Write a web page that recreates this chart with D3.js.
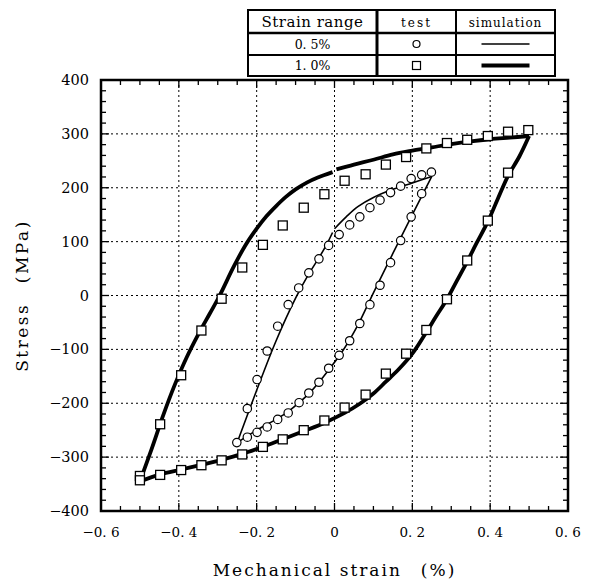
<!DOCTYPE html>
<html>
<head>
<meta charset="utf-8">
<script src="https://cdn.jsdelivr.net/npm/d3@7"></script>
<style>
  body { margin: 0; background: #fff; }
  text { font-family: "DejaVu Serif", "Liberation Serif", serif; fill: #000; }
</style>
</head>
<body>
<div id="chart"></div>
<script>
// ticks
const strainTicks = [-0.6, -0.4, -0.2, 0, 0.2, 0.4, 0.6]
const stressTicks = [-400, -300, -200, -100, 0, 100, 200, 300, 400]

// test data, 0.5% strain range (circles)
const test05UpX = [-0.251, -0.224, -0.199, -0.173, -0.146, -0.119, -0.092, -0.066, -0.040, -0.015, 0.012, 0.039, 0.065, 0.091, 0.117, 0.144, 0.170, 0.197, 0.224, 0.249]
const test05UpY = [-273, -210, -156, -103, -57, -17, 14, 42, 68, 93, 113, 131, 146, 163, 177, 191, 203, 217, 224, 229]
const test05DownX = [0.224, 0.197, 0.170, 0.144, 0.117, 0.091, 0.065, 0.039, 0.012, -0.015, -0.040, -0.066, -0.091, -0.119, -0.146, -0.173, -0.199, -0.224]
const test05DownY = [189, 146, 102, 61, 19, -17, -52, -84, -111, -135, -161, -181, -199, -218, -230, -244, -254, -263]

// test data, 1.0% strain range (squares)
const test10UpX = [-0.500, -0.448, -0.394, -0.342, -0.290, -0.237, -0.184, -0.133, -0.079, -0.026, 0.026, 0.080, 0.132, 0.184, 0.236, 0.289, 0.341, 0.394, 0.446, 0.498]
const test10UpY = [-335, -239, -148, -65, -6, 52, 94, 130, 163, 188, 213, 225, 243, 257, 273, 283, 289, 296, 304, 307]
const test10DownX = [0.446, 0.394, 0.341, 0.289, 0.236, 0.184, 0.132, 0.080, 0.026, -0.026, -0.079, -0.133, -0.184, -0.237, -0.290, -0.342, -0.394, -0.448, -0.500]
const test10DownY = [228, 139, 65, -7, -64, -108, -145, -184, -208, -232, -250, -267, -281, -295, -306, -315, -324, -333, -343]

// simulation, 0.5% (thin line), in segments
const sim05Segments = [
  [[-0.25, -273], [-0.2, -176], [-0.15, -84], [-0.1, -5], [-0.066, 40], [-0.04, 70], [-0.02, 95], [-0.005, 117]],
  [[0, 124], [0.03, 146], [0.06, 165], [0.1, 182], [0.15, 197], [0.2, 209], [0.25, 221]],
  [[0.25, 221], [0.2, 150], [0.15, 78], [0.1, 5], [0.06, -55], [0.02, -104], [-0.03, -152], [-0.06, -178], [-0.091, -199], [-0.12, -216], [-0.146, -228], [-0.2, -250], [-0.25, -273]]
]

// simulation, 1.0% (thick line), in segments
const sim10Segments = [
  [[-0.5, -345], [-0.47, -285], [-0.44, -222], [-0.41, -165], [-0.38, -115], [-0.35, -72], [-0.32, -33], [-0.295, 0], [-0.26, 52], [-0.23, 92], [-0.2, 124], [-0.175, 147], [-0.15, 166], [-0.125, 183], [-0.1, 197], [-0.07, 210], [-0.043, 219], [-0.005, 229]],
  [[0.005, 234], [0.05, 243], [0.1, 252], [0.15, 262], [0.2, 269], [0.25, 275], [0.3, 281], [0.35, 286], [0.4, 290], [0.45, 293], [0.5, 296]],
  [[0.5, 296], [0.475, 258], [0.446, 222], [0.42, 180], [0.394, 137], [0.365, 97], [0.341, 63], [0.315, 28], [0.289, -7], [0.26, -40], [0.236, -68], [0.2, -108], [0.165, -137], [0.132, -160], [0.1, -182], [0.065, -201], [0.026, -218], [-0.025, -236], [-0.08, -252], [-0.133, -267], [-0.185, -281], [-0.237, -294], [-0.29, -305], [-0.34, -314], [-0.394, -323], [-0.448, -332], [-0.5, -345]]
]

// legend table
const legendHeader = ["Strain range", "test", "simulation"]
const legendRanges = ["0. 5%", "1. 0%"]

const width = 600, height = 585
const margin = { left: 101, right: 32, top: 80, bottom: 74 }

const svg = d3.select("#chart")
  .append("svg")
    .attr("width", width)
    .attr("height", height)

const xScale = d3.scaleLinear()
  .domain([-0.6, 0.6])
  .range([margin.left, width - margin.right])

const yScale = d3.scaleLinear()
  .domain([-400, 400])
  .range([height - margin.bottom, margin.top])

const x0 = xScale.range()[0], x1 = xScale.range()[1]
const yb = yScale.range()[0], yt = yScale.range()[1]

// dotted grid
svg.append("g")
  .selectAll("line")
  .data(strainTicks.slice(1, -1))
  .join("line")
    .attr("x1", d => xScale(d)).attr("x2", d => xScale(d))
    .attr("y1", yt).attr("y2", yb)
    .attr("stroke", "#000")
    .attr("stroke-width", 1)
    .attr("stroke-dasharray", "2,3")

svg.append("g")
  .selectAll("line")
  .data(stressTicks.slice(1, -1))
  .join("line")
    .attr("x1", x0).attr("x2", x1)
    .attr("y1", d => yScale(d)).attr("y2", d => yScale(d))
    .attr("stroke", "#000")
    .attr("stroke-width", 1)
    .attr("stroke-dasharray", "2,3")

// inward ticks on all four sides
const xMinor = d3.range(-0.6, 0.6001, 0.05)
const yMinor = d3.range(-400, 400.1, 20)

const tickG = svg.append("g").attr("stroke", "#000").attr("stroke-width", 1.3)
tickG.selectAll(".xb")
  .data(xMinor)
  .join("line")
    .attr("x1", d => xScale(d)).attr("x2", d => xScale(d))
    .attr("y1", yb).attr("y2", (d, i) => yb - (i % 4 === 0 ? 8 : 5))
tickG.selectAll(".xt")
  .data(xMinor)
  .join("line")
    .attr("x1", d => xScale(d)).attr("x2", d => xScale(d))
    .attr("y1", yt).attr("y2", (d, i) => yt + (i % 4 === 0 ? 8 : 5))
tickG.selectAll(".yl")
  .data(yMinor)
  .join("line")
    .attr("y1", d => yScale(d)).attr("y2", d => yScale(d))
    .attr("x1", x0).attr("x2", (d, i) => x0 + (i % 5 === 0 ? 8 : 5))
tickG.selectAll(".yr")
  .data(yMinor)
  .join("line")
    .attr("y1", d => yScale(d)).attr("y2", d => yScale(d))
    .attr("x1", x1).attr("x2", (d, i) => x1 - (i % 5 === 0 ? 8 : 5))

// frame
svg.append("rect")
  .attr("x", x0)
  .attr("y", yt)
  .attr("width", x1 - x0)
  .attr("height", yb - yt)
  .attr("fill", "none")
  .attr("stroke", "#000")
  .attr("stroke-width", 2.5)

// tick labels
const fmtX = d => d === 0 ? "0" : (d < 0 ? "\u2212" : "") + Math.abs(d).toFixed(1).replace(".", ". ")
const fmtY = d => (d < 0 ? "\u2212" : "") + Math.abs(d)

svg.append("g")
  .selectAll("text")
  .data(strainTicks)
  .join("text")
    .attr("x", d => xScale(d))
    .attr("y", yb + 26)
    .attr("text-anchor", "middle")
    .style("font-size", "13.5px")
    .text(fmtX)

svg.append("g")
  .selectAll("text")
  .data(stressTicks)
  .join("text")
    .attr("x", x0 - 12)
    .attr("y", d => yScale(d) + 5)
    .attr("text-anchor", "end")
    .style("font-size", "14.5px")
    .text(fmtY)

// axis titles
svg.append("text")
  .attr("x", xScale(0))
  .attr("y", 576)
  .attr("text-anchor", "middle")
  .style("font-size", "17px")
  .style("letter-spacing", "2px")
  .text("Mechanical strain\u3000(%)")

svg.append("text")
  .attr("transform", `translate(28, ${yScale(0)}) rotate(-90)`)
  .attr("text-anchor", "middle")
  .style("font-size", "17px")
  .style("letter-spacing", "2.5px")
  .text("Stress\u3000(MPa)")

// simulation lines
const line = d3.line()
  .x(d => xScale(d[0]))
  .y(d => yScale(d[1]))
  .curve(d3.curveCatmullRom.alpha(0.5))

svg.append("g")
  .selectAll("path")
  .data(sim05Segments)
  .join("path")
    .attr("d", line)
    .attr("fill", "none")
    .attr("stroke", "#000")
    .attr("stroke-width", 1.6)

svg.append("g")
  .selectAll("path")
  .data(sim10Segments)
  .join("path")
    .attr("d", line)
    .attr("fill", "none")
    .attr("stroke", "#000")
    .attr("stroke-width", 3.8)
    .attr("stroke-linecap", "butt")

// test markers
const zip = (xs, ys) => xs.map((x, i) => [x, ys[i]])
const circles = zip(test05UpX, test05UpY).concat(zip(test05DownX, test05DownY))
const squares = zip(test10UpX, test10UpY).concat(zip(test10DownX, test10DownY))

svg.append("g")
  .selectAll("circle")
  .data(circles)
  .join("circle")
    .attr("cx", d => xScale(d[0]))
    .attr("cy", d => yScale(d[1]))
    .attr("r", 4.2)
    .attr("fill", "#fff")
    .attr("stroke", "#000")
    .attr("stroke-width", 1.2)

const sq = 9
svg.append("g")
  .selectAll("rect")
  .data(squares)
  .join("rect")
    .attr("x", d => xScale(d[0]) - sq / 2)
    .attr("y", d => yScale(d[1]) - sq / 2)
    .attr("width", sq)
    .attr("height", sq)
    .attr("fill", "#fff")
    .attr("stroke", "#000")
    .attr("stroke-width", 1.3)

// legend table (top right)
const tbl = { x: 248, y: 10, cols: [129, 79, 99], rows: [23, 22, 21] }
const colX = [tbl.x, tbl.x + tbl.cols[0], tbl.x + tbl.cols[0] + tbl.cols[1], tbl.x + d3.sum(tbl.cols)]
const rowY = [tbl.y, tbl.y + tbl.rows[0], tbl.y + tbl.rows[0] + tbl.rows[1], tbl.y + d3.sum(tbl.rows)]
const legend = svg.append("g")

legend.append("rect")
  .attr("x", colX[0]).attr("y", rowY[0])
  .attr("width", colX[3] - colX[0]).attr("height", rowY[3] - rowY[0])
  .attr("fill", "#fff").attr("stroke", "#000").attr("stroke-width", 2)

legend.selectAll(".hl")
  .data([rowY[1], rowY[2]])
  .join("line")
    .attr("x1", colX[0]).attr("x2", colX[3])
    .attr("y1", d => d).attr("y2", d => d)
    .attr("stroke", "#000")
    .attr("stroke-width", (d, i) => i === 0 ? 2.5 : 2)

legend.selectAll(".vl")
  .data([colX[1], colX[2]])
  .join("line")
    .attr("x1", d => d).attr("x2", d => d)
    .attr("y1", rowY[0]).attr("y2", rowY[3])
    .attr("stroke", "#000")
    .attr("stroke-width", (d, i) => i === 0 ? 3 : 2)

const colMid = i => (colX[i] + colX[i + 1]) / 2
const rowMid = i => (rowY[i] + rowY[i + 1]) / 2

legend.selectAll(".head")
  .data(legendHeader)
  .join("text")
    .attr("x", (d, i) => colMid(i))
    .attr("y", rowMid(0) + 5.5)
    .attr("text-anchor", "middle")
    .style("font-size", (d, i) => i === 0 ? "15px" : "12px")
    .style("letter-spacing", (d, i) => ["0.5px", "2px", "1px"][i])
    .text(d => d)

legend.selectAll(".range")
  .data(legendRanges)
  .join("text")
    .attr("x", colMid(0))
    .attr("y", (d, i) => rowMid(i + 1) + 4.5)
    .attr("text-anchor", "middle")
    .style("font-size", "12.5px")
    .text(d => d)

legend.append("circle")
  .attr("cx", colMid(1)).attr("cy", rowMid(1))
  .attr("r", 3.5)
  .attr("fill", "#fff").attr("stroke", "#000").attr("stroke-width", 1.2)

legend.append("rect")
  .attr("x", colMid(1) - 4).attr("y", rowMid(2) - 4)
  .attr("width", 8).attr("height", 8)
  .attr("fill", "#fff").attr("stroke", "#000").attr("stroke-width", 1.2)

legend.selectAll(".sample")
  .data([1.6, 3.8])
  .join("line")
    .attr("x1", colMid(2) - 24).attr("x2", colMid(2) + 24)
    .attr("y1", (d, i) => rowMid(i + 1)).attr("y2", (d, i) => rowMid(i + 1))
    .attr("stroke", "#000")
    .attr("stroke-width", d => d)
</script>
</body>
</html>
